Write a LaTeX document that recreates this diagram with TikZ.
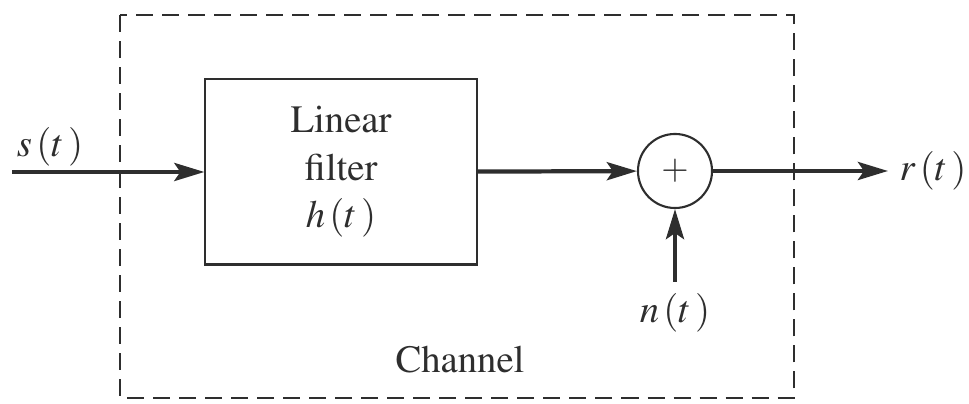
\documentclass[tikz,border=0pt]{standalone}
\usepackage[T1]{fontenc}
\usepackage{mathptmx}
\usetikzlibrary{arrows.meta}
\definecolor{ink}{gray}{0.18}
\begin{document}
\begin{tikzpicture}[x=0.01cm,y=-0.01cm,color=ink,
  sig/.style={line width=1.2pt,-{Stealth[length=3mm,width=1.8mm,inset=0.6mm]}},
  blk/.style={draw,line width=0.6pt,minimum width=2.71cm,minimum height=1.85cm,align=center,font=\fontsize{11}{13.5}\selectfont},
  lbl/.style={font=\fontsize{11}{13.5}\selectfont},
  adder/.style={draw,circle,line width=0.6pt,minimum size=0.74cm,inner sep=0pt}]
\useasboundingbox (0,0) rectangle (969,404);
%\draw[step=50,gray,very thin] (0,0) grid (969,404);
\draw[dash pattern=on 0.17cm off 0.09cm,line width=0.6pt] (120,15) rectangle (794,398);
\node[blk] (filter) at (341,172) {Linear\\filter\\$h\,(t\,)$};
\node[adder] (sum) at (675,171) {$+$};
\coordinate (in) at (12,172);
\coordinate (out) at (888,171);
\coordinate (noise) at (675,282);
\draw[sig] (in) -- (filter);
\draw[sig] (filter) -- (sum);
\draw[sig] (sum) -- (out);
\draw[sig] (noise) -- (sum);
\node[lbl] (s) at (50,147) {$s\,(t\,)$};
\node[lbl] (r) at (933,171) {$r\,(t\,)$};
\node[lbl] (n) at (675,313) {$n\,(t\,)$};
\node[lbl] (channel) at (460,360) {Channel};
\end{tikzpicture}
\end{document}
